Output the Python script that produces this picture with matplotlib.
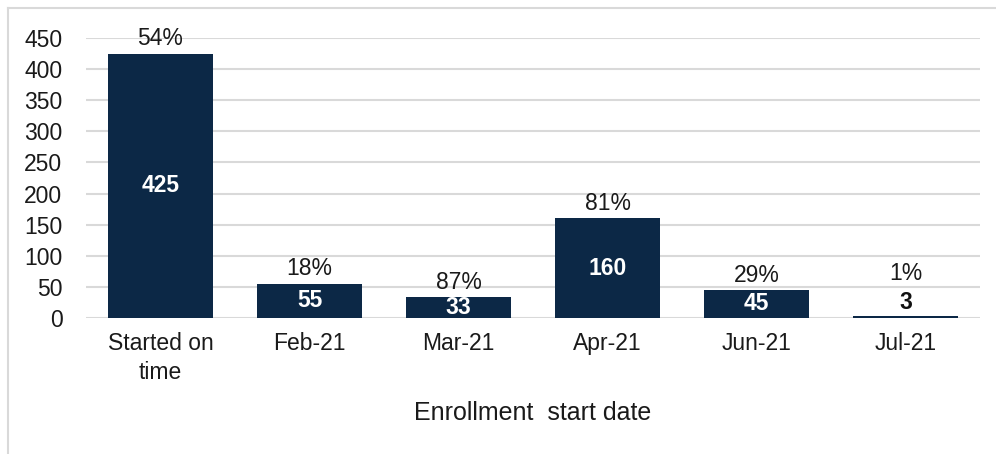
import matplotlib
matplotlib.use("Agg")
import matplotlib.pyplot as plt
from matplotlib.lines import Line2D

categories = ["Started on\ntime", "Feb-21", "Mar-21", "Apr-21", "Jun-21", "Jul-21"]
values = [425, 55, 33, 160, 45, 3]
percents = ["54%", "18%", "87%", "81%", "29%", "1%"]
yticks = [0, 50, 100, 150, 200, 250, 300, 350, 400, 450]

plt.rcParams['font.family'] = ['Liberation Sans', 'DejaVu Sans']
FS = 16.5
W, H = 996, 454
fig = plt.figure(figsize=(W/100, H/100), dpi=100)
ax = fig.add_axes([86/W, 1-318/H, (980-86)/W, (318-38)/H])

bar_color = '#0c2846'
x = list(range(len(categories)))
ax.bar(x, values, width=0.71, color=bar_color, zorder=3)
ax.set_xlim(-0.5, len(categories)-0.5)
ax.set_ylim(0, 450)
ax.set_yticks(yticks)
ax.set_xticks(x)
ax.set_xticklabels(categories, fontsize=FS, color='#1a1a1a', linespacing=1.35)
ax.tick_params(axis='y', labelsize=FS, colors='#1a1a1a', length=0, pad=17)
ax.tick_params(axis='x', length=0, pad=10)
ax.grid(axis='y', color='#d9d9d9', linewidth=1.5, zorder=0)
for s in ax.spines.values():
    s.set_visible(False)
ax.set_xlabel("Enrollment  start date", fontsize=18, color='#1a1a1a', labelpad=12)

for xi, v, p in zip(x, values, percents):
    if v > 20:
        ax.text(xi, v/2, str(v), ha='center', va='center', fontsize=FS,
                fontweight='bold', color='white', zorder=4)
        off = 15
    else:
        ax.annotate(str(v), (xi, v), xytext=(0, 14), textcoords='offset pixels',
                    ha='center', va='center', fontsize=FS, fontweight='bold',
                    color='#111111', zorder=4)
        off = 43
    ax.annotate(p, (xi, v), xytext=(0, off), textcoords='offset pixels',
                ha='center', va='center', fontsize=FS, color='#1a1a1a', annotation_clip=False)

# figure border (top and left)
fig.add_artist(Line2D([8/W, 8/W], [0, 1-8/H], transform=fig.transFigure, color='#d9d9d9', lw=1.5))
fig.add_artist(Line2D([8/W, 1], [1-8/H, 1-8/H], transform=fig.transFigure, color='#d9d9d9', lw=1.5))

fig.savefig("out.png", dpi=100)
